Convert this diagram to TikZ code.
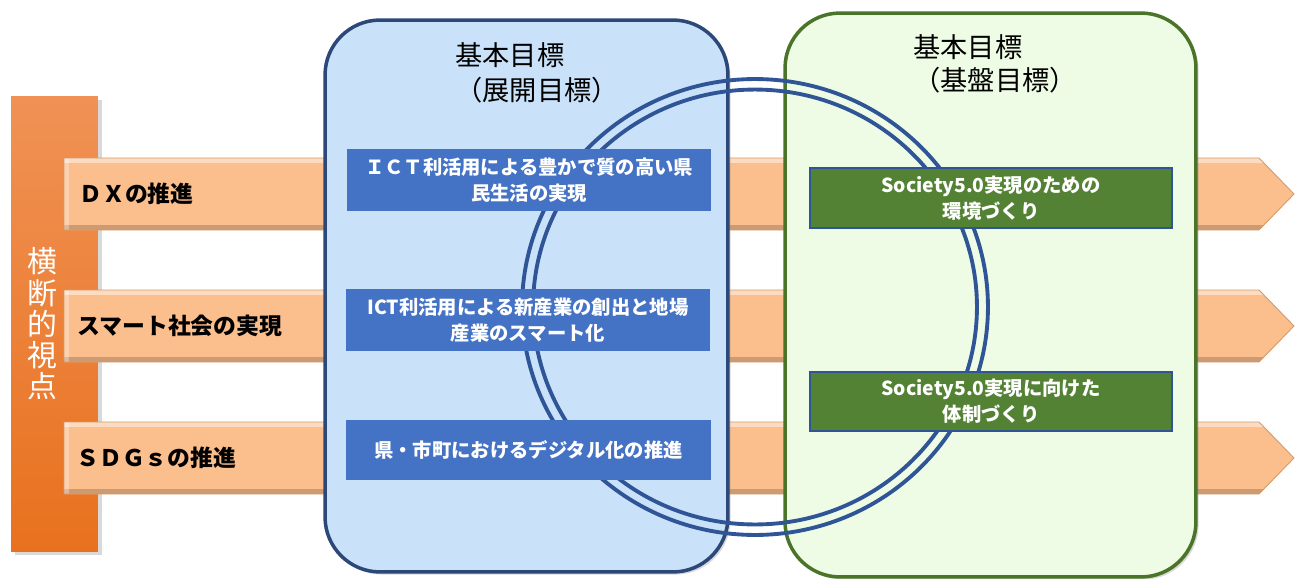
\documentclass[tikz,border=0pt]{standalone}
\usepackage{fontspec}
\newfontfamily\jp{Noto Sans CJK JP}
\usetikzlibrary{shadows, positioning}
\definecolor{peach}{HTML}{FBBE8D}
\definecolor{peachdark}{HTML}{D39A6A}
\definecolor{bartop}{HTML}{F09255}
\definecolor{barbottom}{HTML}{E8711E}
\definecolor{goalblue}{HTML}{C9E2F9}
\definecolor{goalbluedraw}{HTML}{2B4878}
\definecolor{goalgreen}{HTML}{EEFCE6}
\definecolor{goalgreendraw}{HTML}{4A7428}
\definecolor{taskblue}{HTML}{4472C4}
\definecolor{taskgreen}{HTML}{548235}
\definecolor{ringblue}{HTML}{2F5597}
\tikzset{
  crossbar/.style={fill=peach, draw=peachdark, line width=0.5pt,
    path picture={
      \fill[white, opacity=.45] ([yshift=-3pt]path picture bounding box.north west)
        rectangle (path picture bounding box.north east);
      \fill[black, opacity=.18] (path picture bounding box.south west)
        rectangle ([yshift=3pt]path picture bounding box.south east);
      \fill[white, opacity=.3] (path picture bounding box.south west)
        rectangle ([xshift=3pt]path picture bounding box.north west);}},
  crosslabel/.style={anchor=west, inner sep=0pt, font=\jp\bfseries\fontsize{13}{15}\selectfont},
  goalbox/.style={line width=2pt, rounded corners=1.1cm, inner sep=0pt,
    drop shadow={opacity=.3, shadow xshift=1.5pt, shadow yshift=-1.5pt}},
  goaltitle/.style={anchor=base west, inner sep=0pt, font=\jp\fontsize{15.5}{19}\selectfont},
  task/.style={text=white, align=center, inner sep=0pt,
    font=\jp\bfseries\fontsize{11}{14.7}\selectfont},
  ring/.style={draw=ringblue, line width=2.2pt}
}
\begin{document}
\begin{tikzpicture}[x=0.02cm, y=-0.02cm]
  \useasboundingbox (0,0) rectangle (1300,578);

  \node[top color=bartop, bottom color=barbottom, minimum width=1.74cm, minimum height=9.12cm,
        inner sep=0pt, drop shadow={opacity=.3, shadow xshift=2pt, shadow yshift=-2pt}] (vbar) at (54.5,324) {};
  \node[text=white, align=center, inner sep=0pt, font=\jp\fontsize{17}{17.8}\selectfont]
        (viewpoint) at (42,324) {横\\断\\的\\視\\点};

  \foreach \y in {194,326,458}
    \path[crossbar] (64,\y-36) -- (1259,\y-36) -- (1294,\y) -- (1259,\y+36) -- (64,\y+36) -- cycle;
  \node[crosslabel] (dxlabel) at (79,194) {ＤＸの推進};
  \node[crosslabel] (smartlabel) at (77,326) {スマート社会の実現};
  \node[crosslabel] (sdgslabel) at (76,458) {ＳＤＧｓの推進};

  \node[goalbox, fill=goalblue, draw=goalbluedraw, minimum width=8.06cm, minimum height=11.04cm] (tenkai) at (526.5,296) {};
  \node[goalbox, fill=goalgreen, draw=goalgreendraw, minimum width=8.22cm, minimum height=11.28cm] (kiban) at (990.5,295) {};

  \draw[ring] (755,307) ellipse [x radius=4.66cm, y radius=4.56cm];
  \draw[ring] (755,307) ellipse [x radius=4.44cm, y radius=4.35cm];

  \node[goaltitle] (tenkaiA) at (455,65.5) {基本目標};
  \node[goaltitle] (tenkaiB) at (455,100.5) {（展開目標）};
  \node[goaltitle] (kibanA) at (913,57.5) {基本目標};
  \node[goaltitle] (kibanB) at (913,90.5) {（基盤目標）};

  \node[task, fill=taskblue, minimum width=7.3cm, minimum height=1.24cm] (goal1) at (529,180)
        {ＩＣＴ利活用による豊かで質の高い県\\民生活の実現};
  \node[task, fill=taskblue, minimum width=7.3cm, minimum height=1.24cm] (goal2) at (528,320)
        {ICT利活用による新産業の創出と地場\\産業のスマート化};
  \node[task, fill=taskblue, minimum width=7.3cm, minimum height=1.2cm] (goal3) at (528.5,450)
        {県・市町におけるデジタル化の推進};
  \node[task, fill=taskgreen, draw=ringblue, line width=0.7pt, minimum width=7.24cm, minimum height=1.2cm] (base1) at (991,198)
        {Society5.0実現のための\\環境づくり};
  \node[task, fill=taskgreen, draw=ringblue, line width=0.7pt, minimum width=7.24cm, minimum height=1.18cm] (base2) at (991,401.5)
        {Society5.0実現に向けた\\体制づくり};
\end{tikzpicture}
\end{document}
